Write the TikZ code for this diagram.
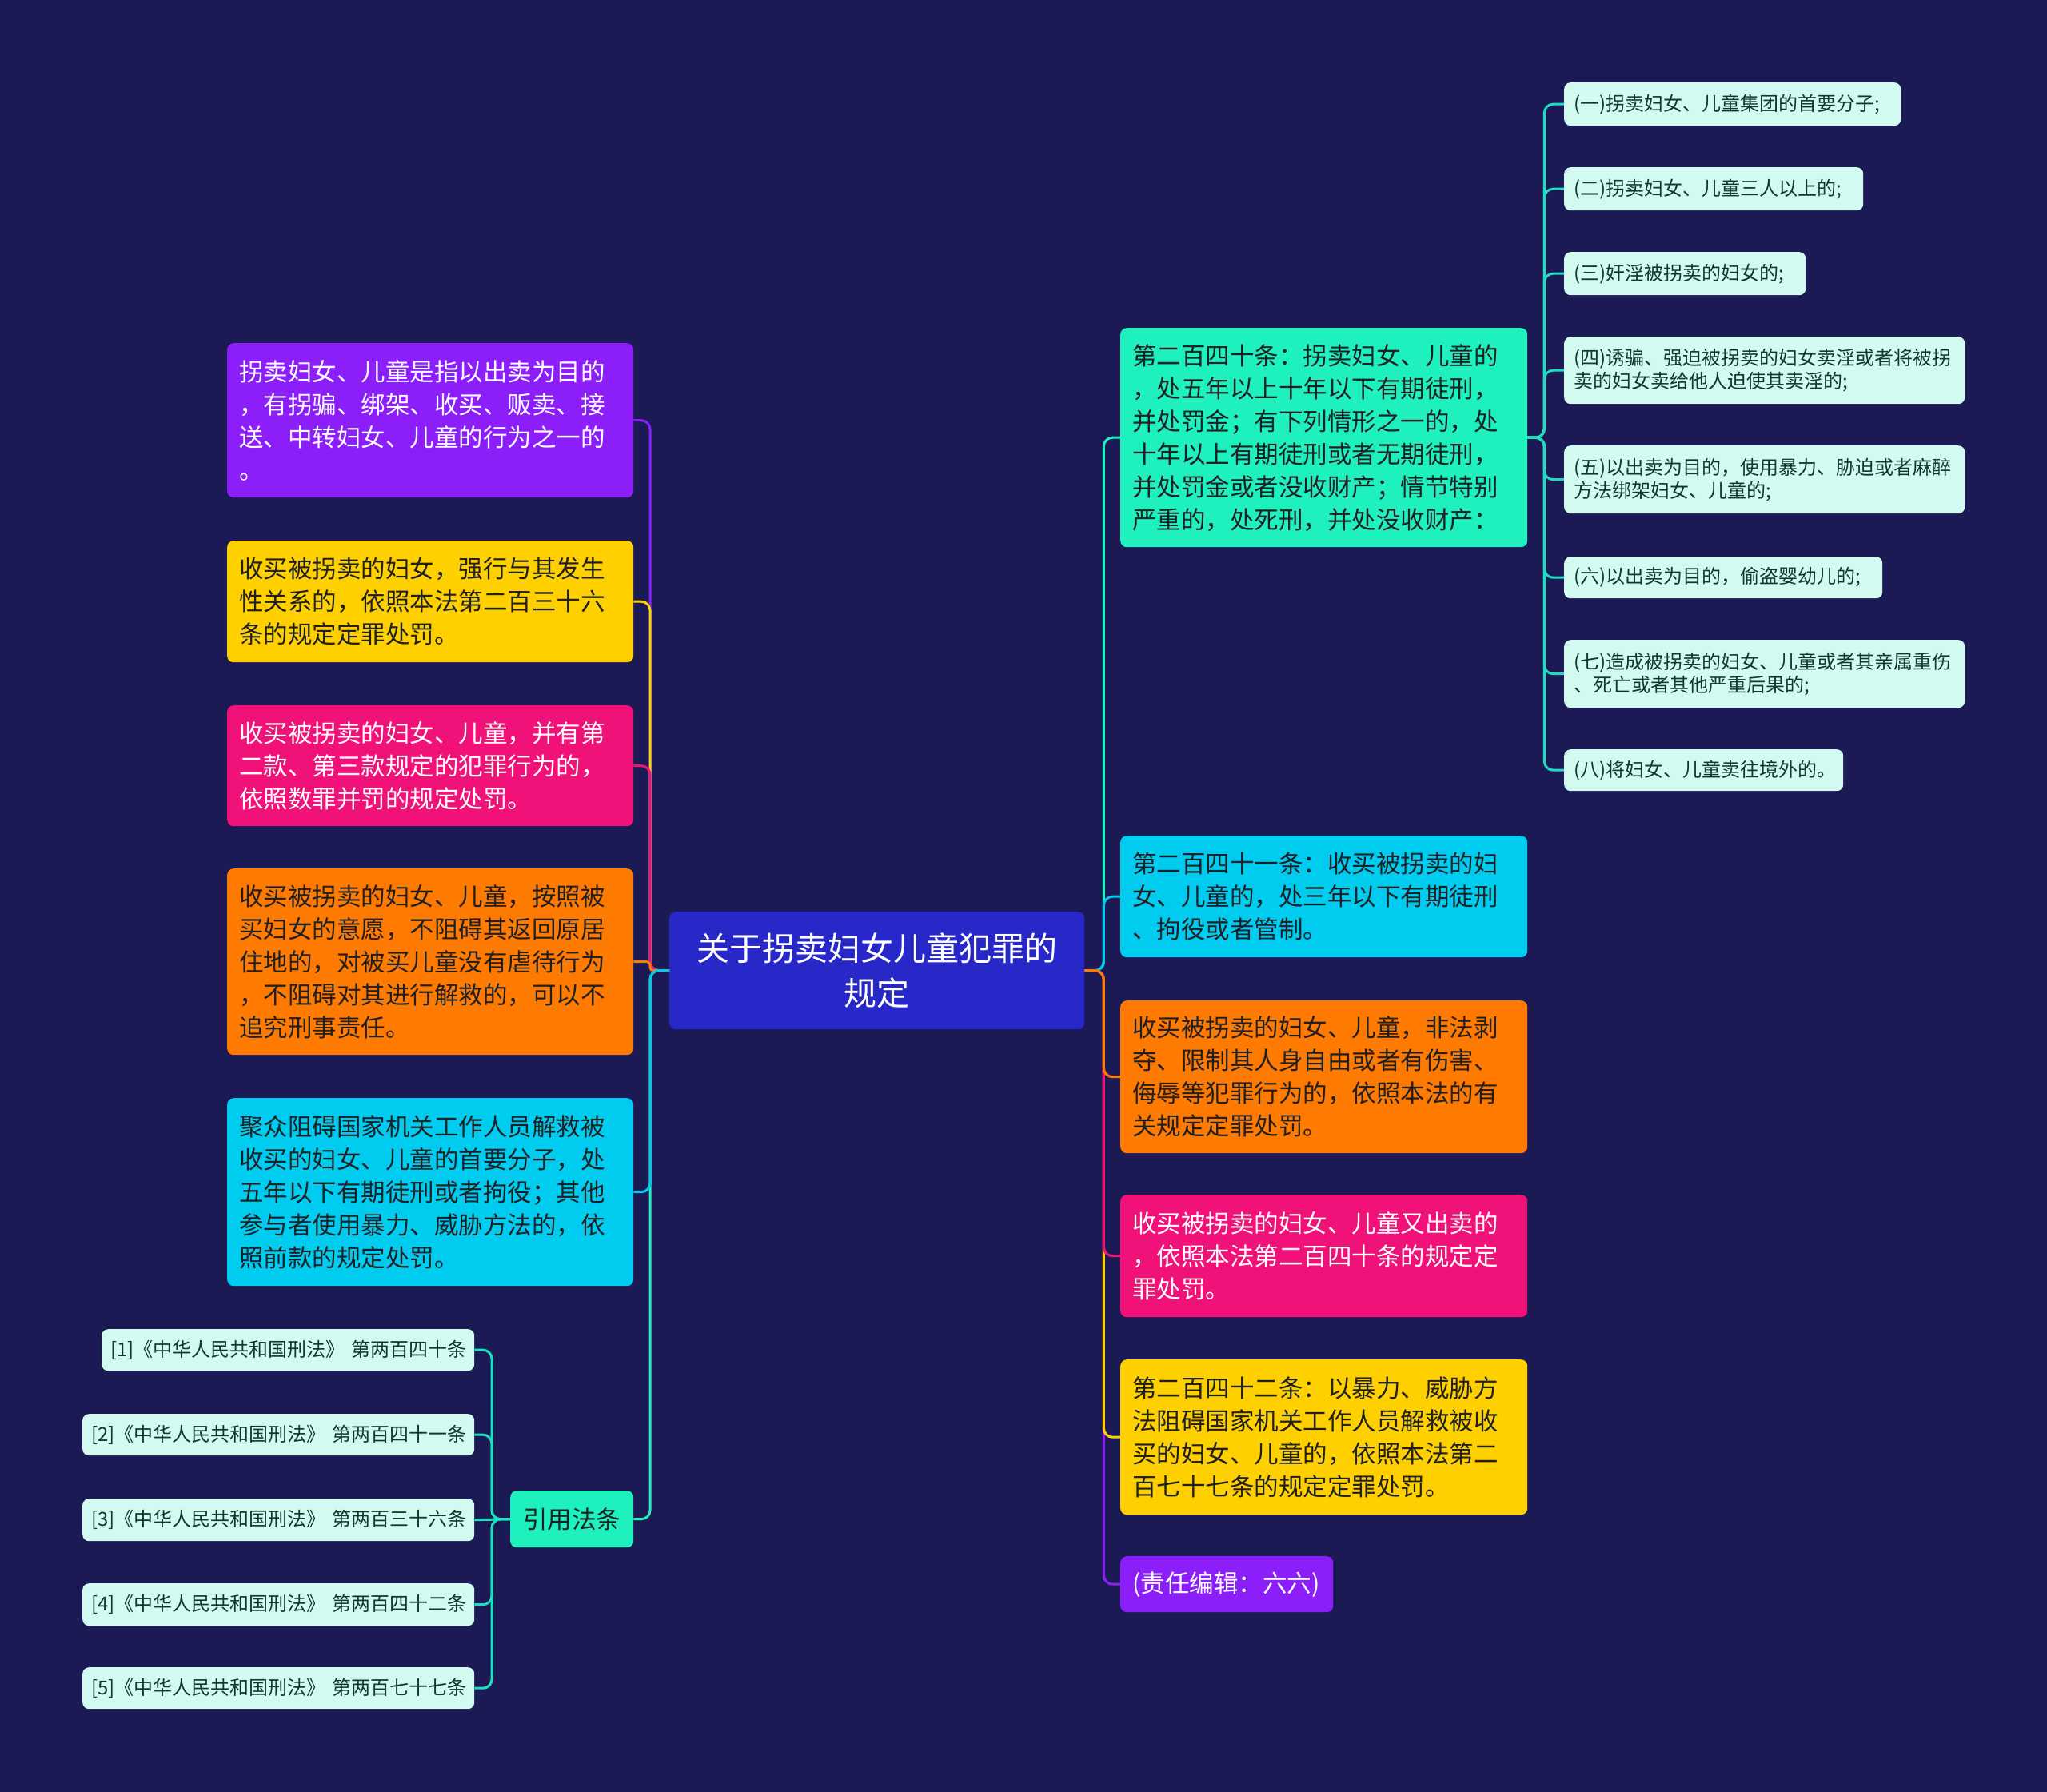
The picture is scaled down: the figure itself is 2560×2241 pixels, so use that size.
\documentclass[tikz,border=0pt]{standalone}
\usepackage{fontspec}
\setmainfont{Noto Sans CJK SC}
\definecolor{bg}{RGB}{28,26,84}
\definecolor{rootc}{RGB}{40,40,200}
\definecolor{purp}{RGB}{140,30,250}
\definecolor{yell}{RGB}{255,208,0}
\definecolor{pink}{RGB}{240,18,120}
\definecolor{oran}{RGB}{255,122,0}
\definecolor{cyan}{RGB}{0,204,240}
\definecolor{teal}{RGB}{30,240,190}
\definecolor{mint}{RGB}{210,250,240}
\definecolor{subline}{RGB}{30,222,192}
\definecolor{darktxt}{RGB}{30,32,36}
\definecolor{minttxt}{RGB}{14,58,46}
\tikzset{
  bigbox/.style={rounded corners=8pt, anchor=north west, inner xsep=15pt, inner ysep=0pt,
    align=left, font=\fontsize{30.5pt}{41pt}\selectfont},
  smallbox/.style={rounded corners=8pt, anchor=north west, inner xsep=12pt, inner ysep=0pt,
    align=left, fill=mint, text=minttxt, font=\fontsize{24pt}{29pt}\selectfont},
  refbox/.style={smallbox, inner xsep=11pt},
  sz/.style 2 args={text width=#1pt, minimum height=#2pt},
  conn/.style={line width=3pt, rounded corners=11pt},
}
\begin{document}
\begin{tikzpicture}[x=1pt,y=-1pt]
\fill[bg] (0,0) rectangle (2560,2241);
\useasboundingbox (0,0) rectangle (2560,2241);

% root
\node[rounded corners=8pt, anchor=north west, inner xsep=15pt, inner ysep=0pt, align=center,
  fill=rootc, text=white, font=\fontsize{41pt}{56pt}\selectfont, sz={489}{147}]
  (root) at (837,1140) {关于拐卖妇女儿童犯罪的\\规定};

% left branches
\node[bigbox, fill=purp, text=white, sz={478}{193}] (L1) at (284,429)
  {拐卖妇女、儿童是指以出卖为目的\\，有拐骗、绑架、收买、贩卖、接\\送、中转妇女、儿童的行为之一的\\。};
\node[bigbox, fill=yell, text=darktxt, sz={478}{152}] (L2) at (284,676)
  {收买被拐卖的妇女，强行与其发生\\性关系的，依照本法第二百三十六\\条的规定定罪处罚。};
\node[bigbox, fill=pink, text=white, sz={478}{151}] (L3) at (284,882)
  {收买被拐卖的妇女、儿童，并有第\\二款、第三款规定的犯罪行为的，\\依照数罪并罚的规定处罚。};
\node[bigbox, fill=oran, text=darktxt, sz={478}{233}] (L4) at (284,1086)
  {收买被拐卖的妇女、儿童，按照被\\买妇女的意愿，不阻碍其返回原居\\住地的，对被买儿童没有虐待行为\\，不阻碍对其进行解救的，可以不\\追究刑事责任。};
\node[bigbox, fill=cyan, text=darktxt, sz={478}{235}] (L5) at (284,1373)
  {聚众阻碍国家机关工作人员解救被\\收买的妇女、儿童的首要分子，处\\五年以下有期徒刑或者拘役；其他\\参与者使用暴力、威胁方法的，依\\照前款的规定处罚。};
\node[bigbox, align=center, fill=teal, text=darktxt, sz={124}{71}] (L6) at (638,1864) {引用法条};

% references
\node[refbox, sz={444}{52}] (R1) at (127,1662) {[1]《中华人民共和国刑法》~第两百四十条};
\node[refbox, sz={468}{52}] (R2) at (103,1768) {[2]《中华人民共和国刑法》~第两百四十一条};
\node[refbox, sz={468}{53}] (R3) at (103,1874) {[3]《中华人民共和国刑法》~第两百三十六条};
\node[refbox, sz={468}{53}] (R4) at (103,1980) {[4]《中华人民共和国刑法》~第两百四十二条};
\node[refbox, sz={468}{52}] (R5) at (103,2085) {[5]《中华人民共和国刑法》~第两百七十七条};

% right branches
\node[bigbox, fill=teal, text=darktxt, sz={479}{274}] (M1) at (1401,410)
  {第二百四十条：拐卖妇女、儿童的\\，处五年以上十年以下有期徒刑，\\并处罚金；有下列情形之一的，处\\十年以上有期徒刑或者无期徒刑，\\并处罚金或者没收财产；情节特别\\严重的，处死刑，并处没收财产：};
\node[bigbox, fill=cyan, text=darktxt, sz={479}{152}] (M2) at (1401,1045)
  {第二百四十一条：收买被拐卖的妇\\女、儿童的，处三年以下有期徒刑\\、拘役或者管制。};
\node[bigbox, fill=oran, text=darktxt, sz={479}{191}] (M3) at (1401,1251)
  {收买被拐卖的妇女、儿童，非法剥\\夺、限制其人身自由或者有伤害、\\侮辱等犯罪行为的，依照本法的有\\关规定定罪处罚。};
\node[bigbox, fill=pink, text=white, sz={479}{153}] (M4) at (1401,1494)
  {收买被拐卖的妇女、儿童又出卖的\\，依照本法第二百四十条的规定定\\罪处罚。};
\node[bigbox, fill=yell, text=darktxt, sz={479}{194}] (M5) at (1401,1700)
  {第二百四十二条：以暴力、威胁方\\法阻碍国家机关工作人员解救被收\\买的妇女、儿童的，依照本法第二\\百七十七条的规定定罪处罚。};
\node[bigbox, fill=purp, text=white, sz={236}{70}] (M6) at (1401,1946) {(责任编辑：六六)};

% sub items
\node[smallbox, sz={397}{54}] (S1) at (1956,103) {(一)拐卖妇女、儿童集团的首要分子;};
\node[smallbox, sz={350}{54}] (S2) at (1956,209) {(二)拐卖妇女、儿童三人以上的;};
\node[smallbox, sz={278}{54}] (S3) at (1956,315) {(三)奸淫被拐卖的妇女的;};
\node[smallbox, sz={477}{84}] (S4) at (1956,421) {(四)诱骗、强迫被拐卖的妇女卖淫或者将被拐\\卖的妇女卖给他人迫使其卖淫的;};
\node[smallbox, sz={477}{85}] (S5) at (1956,557) {(五)以出卖为目的，使用暴力、胁迫或者麻醉\\方法绑架妇女、儿童的;};
\node[smallbox, sz={374}{52}] (S6) at (1956,696) {(六)以出卖为目的，偷盗婴幼儿的;};
\node[smallbox, sz={477}{85}] (S7) at (1956,800) {(七)造成被拐卖的妇女、儿童或者其亲属重伤\\、死亡或者其他严重后果的;};
\node[smallbox, sz={325}{52}] (S8) at (1956,937) {(八)将妇女、儿童卖往境外的。};

% connectors: left
\draw[conn, purp] (root.west) -- ++(-24,0) |- (L1.east);
\draw[conn, yell] (root.west) -- ++(-24,0) |- (L2.east);
\draw[conn, pink] (root.west) -- ++(-24,0) |- (L3.east);
\draw[conn, oran, rounded corners=4pt] (root.west) -- ++(-24,0) |- (L4.east);
\draw[conn, teal] (root.west) -- ++(-24,0) |- (L6.east);
\draw[conn, cyan] (root.west) -- ++(-24,0) |- (L5.east);

% connectors: right
\draw[conn, teal] (root.east) -- ++(24,0) |- (M1.west);
\draw[conn, cyan] (root.east) -- ++(24,0) |- (M2.west);
\draw[conn, purp] (root.east) -- ++(24,0) |- (M6.west);
\draw[conn, yell] (root.east) -- ++(24,0) |- (M5.west);
\draw[conn, pink] (root.east) -- ++(24,0) |- (M4.west);
\draw[conn, oran] (root.east) -- ++(24,0) |- (M3.west);

% connectors: sub items
\foreach \s in {S1,S2,S3,S4,S5,S6,S7,S8}
  \draw[conn, subline] (M1.east) -- ++(21,0) |- (\s.west);

% connectors: references
\foreach \r in {R1,R2,R4,R5}
  \draw[conn, subline] (L6.west) -- ++(-23,0) |- (\r.east);
\draw[conn, subline] (L6.west) -- (R3.east);
\end{tikzpicture}
\end{document}
